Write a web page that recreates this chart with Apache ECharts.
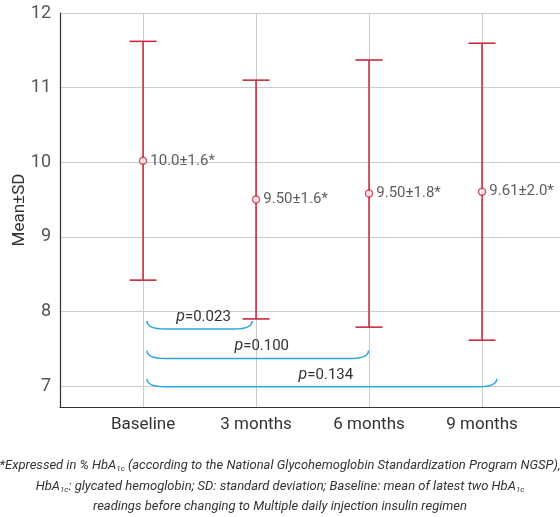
<!DOCTYPE html>
<html><head><meta charset="utf-8">
<script src="https://cdn.jsdelivr.net/npm/echarts@6/dist/echarts.min.js"></script>
<style>html,body{margin:0;padding:0;background:#fff}#c{width:560px;height:517px}</style>
</head><body><div id="c"></div>
<script>
const categories = ['Baseline', '3 months', '6 months', '9 months'];
const categoryPos = [1, 2, 3, 4];
const means = [10.02, 9.50, 9.58, 9.605];
const sds = [1.60, 1.60, 1.79, 1.99];
const pointLabels = ['10.0±1.6*', '9.50±1.6*', '9.50±1.8*', '9.61±2.0*'];
const yTicks = [7, 8, 9, 10, 11, 12];
const bracketStart = [1.035, 1.035, 1.035];
const bracketEnd = [1.965, 2.995, 4.13];
const bracketLevel = [7.764, 7.371, 6.99];
const pValues = ['0.023', '0.100', '0.134'];
const footnoteLines = [
  '*Expressed in % HbA{s|1c} (according to the National Glycohemoglobin Standardization Program NGSP),',
  'HbA{s|1c}: glycated hemoglobin; SD: standard deviation; Baseline: mean of latest two HbA{s|1c}',
  'readings before changing to Multiple daily injection insulin regimen'
];

const RED = '#cc2a3f', BLUE = '#2aa6e0';
const FONT = 'Roboto';

const errData = categoryPos.map((x, i) => [x, means[i] - sds[i], means[i] + sds[i]]);
const meanData = categoryPos.map((x, i) => ({ value: [x, means[i]], label: { formatter: pointLabels[i] } }));
const bracketData = pValues.map((p, i) => [bracketStart[i], bracketEnd[i], bracketLevel[i], p]);

const chart = echarts.init(document.getElementById('c'), null, { renderer: 'canvas' });
chart.setOption({
  animation: false,
  grid: { left: 60, right: 0, top: 13, bottom: 110, containLabel: false, outerBoundsMode: 'none' },
  xAxis: {
    type: 'value', min: 0.265, max: 4.69,
    axisLine: { show: true, onZero: false, lineStyle: { color: '#333', width: 1.2 } },
    axisTick: { show: false, customValues: categoryPos },
    axisLabel: { customValues: categoryPos, margin: 9, color: '#333', fontFamily: FONT, fontSize: 17,
      formatter: v => categories[categoryPos.indexOf(Math.round(v))] || '' },
    splitLine: { show: true, lineStyle: { color: '#cccccc', width: 1 } }
  },
  yAxis: {
    type: 'value', min: 6.72, max: 12,
    name: 'Mean±SD', nameLocation: 'middle', nameGap: 32, nameMoveOverlap: false,
    nameTextStyle: { color: '#333', fontFamily: FONT, fontSize: 17 },
    axisLine: { show: true, lineStyle: { color: '#333', width: 1.2 } },
    axisTick: { show: false, customValues: yTicks },
    axisLabel: { customValues: yTicks, margin: 9, color: '#555', fontFamily: FONT, fontSize: 18 },
    splitLine: { show: true, lineStyle: { color: '#cccccc', width: 1 } }
  },
  series: [
    {
      type: 'custom', data: errData, z: 3,
      renderItem: function (params, api) {
        const x = api.value(0);
        const lo = api.coord([x, api.value(1)]);
        const hi = api.coord([x, api.value(2)]);
        const hw = 13.5;
        const st = { stroke: RED, lineWidth: 1.6 };
        return { type: 'group', children: [
          { type: 'line', shape: { x1: lo[0], y1: lo[1], x2: hi[0], y2: hi[1] }, style: st },
          { type: 'line', shape: { x1: lo[0] - hw, y1: lo[1], x2: lo[0] + hw, y2: lo[1] }, style: st },
          { type: 'line', shape: { x1: hi[0] - hw, y1: hi[1], x2: hi[0] + hw, y2: hi[1] }, style: st }
        ] };
      }
    },
    {
      type: 'scatter', data: meanData, z: 5,
      symbol: 'circle', symbolSize: 7,
      itemStyle: { color: '#fff', borderColor: RED, borderWidth: 1.5 },
      label: { show: true, position: 'right', distance: 3, color: '#333', fontFamily: FONT, fontSize: 15 }
    },
    {
      type: 'custom', data: bracketData, z: 4,
      renderItem: function (params, api) {
        const a = api.coord([api.value(0), api.value(2)]);
        const b = api.coord([api.value(1), api.value(2)]);
        const rise = 8, r = 18;
        const path = 'M' + a[0] + ' ' + (a[1] - rise) +
          ' Q' + a[0] + ' ' + a[1] + ' ' + (a[0] + r) + ' ' + a[1] +
          ' L' + (b[0] - r) + ' ' + b[1] +
          ' Q' + b[0] + ' ' + b[1] + ' ' + b[0] + ' ' + (b[1] - rise);
        return { type: 'group', children: [
          { type: 'path', shape: { pathData: path }, style: { stroke: BLUE, fill: null, lineWidth: 1.5 } },
          { type: 'text', x: (a[0] + b[0]) / 2 + 4, y: a[1] - 12,
            style: { text: '{i|p}=' + pValues[params.dataIndex], align: 'center', verticalAlign: 'middle',
              fill: '#333', font: '15px ' + FONT,
              rich: { i: { fontStyle: 'italic', fontFamily: FONT, fontSize: 16, fill: '#333' } } } }
        ] };
      }
    }
  ],
  graphic: footnoteLines.map((t, i) => ({
    type: 'text', x: 280, y: 466 + i * 20.5,
    style: {
      text: t, align: 'center', verticalAlign: 'middle',
      fill: '#333', fontFamily: FONT, fontStyle: 'italic', fontSize: 13,
      rich: { s: { fontSize: 8, fontStyle: 'italic', fontFamily: FONT, verticalAlign: 'bottom', padding: [6, 0, 0, 0], fill: '#333' } }
    }
  }))
});
</script></body></html>
